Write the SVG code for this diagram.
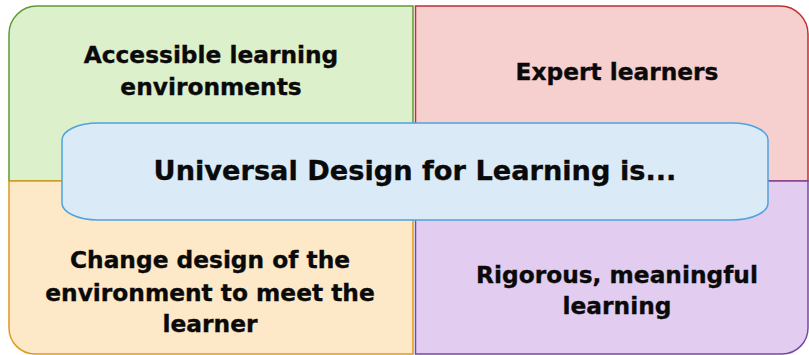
<svg xmlns="http://www.w3.org/2000/svg" width="809" height="355" viewBox="0 0 809 355">
  <style>
    .quad { stroke-width: 1.5; }
    .label { font-family: "DejaVu Sans", "Liberation Sans", sans-serif; font-weight: bold; fill: #0a0a0a; text-anchor: middle; stroke: #0a0a0a; stroke-width: 0.35; }
    .small { font-size: 23.3px; }
    .big { font-size: 27.2px; }
  </style>
  <rect x="0" y="0" width="809" height="355" fill="#ffffff"/>

  <!-- top-left quadrant -->
  <g id="accessible">
    <path class="quad" d="M 9 181 V 34 A 28 28 0 0 1 37 6 H 413 V 181 Z" fill="#dcf0cb" stroke="#5e9a33"/>
    <text class="label small" x="211" y="63">Accessible learning</text>
    <text class="label small" x="211" y="95">environments</text>
  </g>

  <!-- top-right quadrant -->
  <g id="expert">
    <path class="quad" d="M 415.5 6 H 780 A 28 28 0 0 1 808 34 V 181 H 415.5 Z" fill="#f6cfcf" stroke="#c0302f"/>
    <text class="label small" x="617" y="80">Expert learners</text>
  </g>

  <!-- bottom-left quadrant -->
  <g id="change-design">
    <path class="quad" d="M 9 181 H 413 V 354 H 35 A 26 26 0 0 1 9 328 Z" fill="#fde8c8" stroke="#e09b1a"/>
    <text class="label small" x="210" y="268">Change design of the</text>
    <text class="label small" x="210" y="301">environment to meet the</text>
    <text class="label small" x="210" y="332">learner</text>
  </g>

  <!-- bottom-right quadrant -->
  <g id="rigorous">
    <path class="quad" d="M 415.5 181 H 808 V 328 A 26 26 0 0 1 782 354 H 415.5 Z" fill="#e2cdf0" stroke="#7b45a8"/>
    <text class="label small" x="617" y="283">Rigorous, meaningful</text>
    <text class="label small" x="617" y="314">learning</text>
  </g>

  <!-- central banner -->
  <g id="udl">
    <rect x="62" y="123" width="706" height="97" rx="36" ry="17" fill="#daeaf7" stroke="#4fa2de" stroke-width="1.5"/>
    <text class="label big" x="415" y="180">Universal Design for Learning is...</text>
  </g>

  <g id="connectors"/>
</svg>
